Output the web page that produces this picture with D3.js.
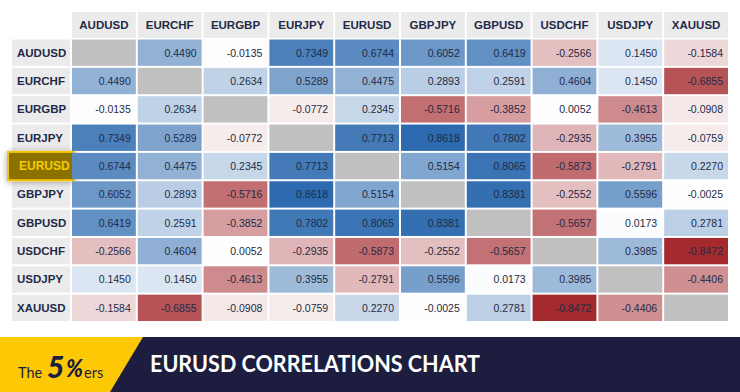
<!DOCTYPE html>
<html>
<head>
<meta charset="utf-8">
<script src="https://cdn.jsdelivr.net/npm/d3@7"></script>
<style>
  body { margin: 0; background: #fff; }
  svg { display: block; }
</style>
</head>
<body>
<svg id="chart" width="740" height="392"></svg>
<script>
// currency pairs, same order for rows and columns
const symbols = ["AUDUSD", "EURCHF", "EURGBP", "EURJPY", "EURUSD", "GBPJPY", "GBPUSD", "USDCHF", "USDJPY", "XAUUSD"]

// correlation rows, null on the diagonal
const rowAUDUSD = [null, 0.4490, -0.0135, 0.7349, 0.6744, 0.6052, 0.6419, -0.2566, 0.1450, -0.1584]
const rowEURCHF = [0.4490, null, 0.2634, 0.5289, 0.4475, 0.2893, 0.2591, 0.4604, 0.1450, -0.6855]
const rowEURGBP = [-0.0135, 0.2634, null, -0.0772, 0.2345, -0.5716, -0.3852, 0.0052, -0.4613, -0.0908]
const rowEURJPY = [0.7349, 0.5289, -0.0772, null, 0.7713, 0.8618, 0.7802, -0.2935, 0.3955, -0.0759]
const rowEURUSD = [0.6744, 0.4475, 0.2345, 0.7713, null, 0.5154, 0.8065, -0.5873, -0.2791, 0.2270]
const rowGBPJPY = [0.6052, 0.2893, -0.5716, 0.8618, 0.5154, null, 0.8381, -0.2552, 0.5596, -0.0025]
const rowGBPUSD = [0.6419, 0.2591, -0.3852, 0.7802, 0.8065, 0.8381, null, -0.5657, 0.0173, 0.2781]
const rowUSDCHF = [-0.2566, 0.4604, 0.0052, -0.2935, -0.5873, -0.2552, -0.5657, null, 0.3985, -0.8472]
const rowUSDJPY = [0.1450, 0.1450, -0.4613, 0.3955, -0.2791, 0.5596, 0.0173, 0.3985, null, -0.4406]
const rowXAUUSD = [-0.1584, -0.6855, -0.0908, -0.0759, 0.2270, -0.0025, 0.2781, -0.8472, -0.4406, null]

const correlations = [rowAUDUSD, rowEURCHF, rowEURGBP, rowEURJPY, rowEURUSD, rowGBPJPY, rowGBPUSD, rowUSDCHF, rowUSDJPY, rowXAUUSD]

const highlighted = "EURUSD"
const titleText = "EURUSD CORRELATIONS CHART"

const svg = d3.select("#chart")

const x = d3.scaleBand().domain(symbols).range([72, 728]).paddingInner(0.03)
const y = d3.scaleBand().domain(symbols).range([39.5, 321]).paddingInner(0.07)

const color = d3.scaleLinear()
    .domain([-0.86, 0, 0.87])
    .range(["#a3272b", "#ffffff", "#2b69ae"])
    .clamp(true)

// drop shadow for the highlighted label
const defs = svg.append("defs")
const shadow = defs.append("filter").attr("id", "shadow")
    .attr("x", "-30%").attr("y", "-60%").attr("width", "160%").attr("height", "220%")
shadow.append("feDropShadow")
    .attr("dx", 0).attr("dy", 1).attr("stdDeviation", 3)
    .attr("flood-color", "#000").attr("flood-opacity", 0.35)

// column headers
const headerY = 12
const headerH = 26
svg.append("g").selectAll("rect")
    .data(symbols)
    .join("rect")
    .attr("x", d => x(d))
    .attr("y", headerY)
    .attr("width", x.bandwidth())
    .attr("height", headerH)
    .attr("fill", "#ebebeb")

svg.append("g").selectAll("text")
    .data(symbols)
    .join("text")
    .attr("x", d => x(d) + x.bandwidth() / 2)
    .attr("y", headerY + headerH / 2 + 4)
    .attr("text-anchor", "middle")
    .attr("font-family", "Liberation Sans, Arial, sans-serif")
    .attr("font-weight", "bold")
    .attr("font-size", 11.5)
    .attr("fill", "#1f2a48")
    .text(d => d)

// row headers
const labelX = 12
const labelW = 58
svg.append("g").selectAll("rect")
    .data(symbols.filter(d => d != highlighted))
    .join("rect")
    .attr("x", labelX)
    .attr("y", d => y(d))
    .attr("width", labelW)
    .attr("height", y.bandwidth())
    .attr("fill", "#ebebeb")

svg.append("rect")
    .attr("x", 8)
    .attr("y", y(highlighted) - 1)
    .attr("width", 66)
    .attr("height", y.bandwidth() + 2)
    .attr("fill", "#8a7100")
    .attr("stroke", "#f6c700")
    .attr("stroke-width", 2)
    .attr("filter", "url(#shadow)")

svg.append("g").selectAll("text")
    .data(symbols)
    .join("text")
    .attr("x", d => d == highlighted ? 19 : 17)
    .attr("y", d => y(d) + y.bandwidth() / 2 + 4)
    .attr("font-family", "Liberation Sans, Arial, sans-serif")
    .attr("font-weight", "bold")
    .attr("font-size", d => d == highlighted ? 12 : 11.5)
    .attr("fill", d => d == highlighted ? "#f5cc00" : "#1f2a48")
    .text(d => d)

// matrix cells
let cells = []
correlations.forEach(function(row, i) {
    row.forEach(function(v, j) {
        cells.push({ row: symbols[i], col: symbols[j], value: v })
    })
})

svg.append("g").selectAll("rect")
    .data(cells)
    .join("rect")
    .attr("x", d => x(d.col))
    .attr("y", d => y(d.row))
    .attr("width", x.bandwidth())
    .attr("height", y.bandwidth())
    .attr("fill", d => d.value == null ? "#c0c0c0" : color(d.value))

svg.append("g").selectAll("text")
    .data(cells.filter(d => d.value != null))
    .join("text")
    .attr("x", d => x(d.col) + x.bandwidth() - 5)
    .attr("y", d => y(d.row) + y.bandwidth() / 2 + 4)
    .attr("text-anchor", "end")
    .attr("font-family", "Liberation Sans, Arial, sans-serif")
    .attr("font-size", 10.5)
    .attr("fill", "#1f2a45")
    .text(d => d.value.toFixed(4))

// banner at the bottom
const bannerTop = 337
svg.append("rect")
    .attr("x", 0).attr("y", bannerTop)
    .attr("width", 740).attr("height", 392 - bannerTop)
    .attr("fill", "#fdc905")

svg.append("polygon")
    .attr("points", [[143, bannerTop], [740, bannerTop], [740, 392], [110, 392]].map(p => p.join(",")).join(" "))
    .attr("fill", "#1c1d3f")

// logo pieces
const logoFont = "Lato, Liberation Sans, sans-serif"
svg.append("text")
    .attr("x", 18).attr("y", 378)
    .attr("font-family", logoFont).attr("font-size", 14.5)
    .attr("fill", "#1c1d3f")
    .text("The")
svg.append("text")
    .attr("x", 47).attr("y", 378)
    .attr("font-family", logoFont).attr("font-size", 30)
    .attr("font-weight", "900").attr("font-style", "italic")
    .attr("fill", "#1c1d3f")
    .text("5")
svg.append("text")
    .attr("x", 66).attr("y", 377)
    .attr("font-family", logoFont).attr("font-size", 24)
    .attr("font-weight", "900").attr("font-style", "italic")
    .attr("fill", "#1c1d3f")
    .attr("textLength", 17)
    .attr("lengthAdjust", "spacingAndGlyphs")
    .text("%")
svg.append("text")
    .attr("x", 84).attr("y", 378)
    .attr("font-family", logoFont).attr("font-size", 14.5)
    .attr("fill", "#1c1d3f")
    .text("ers")

svg.append("text")
    .attr("x", 150)
    .attr("y", 372)
    .attr("font-family", "Lato, Liberation Sans, sans-serif")
    .attr("font-weight", "bold")
    .attr("font-size", 23)
    .attr("fill", "#ffffff")
    .attr("textLength", 330)
    .attr("lengthAdjust", "spacingAndGlyphs")
    .text(titleText)
</script>
</body>
</html>
